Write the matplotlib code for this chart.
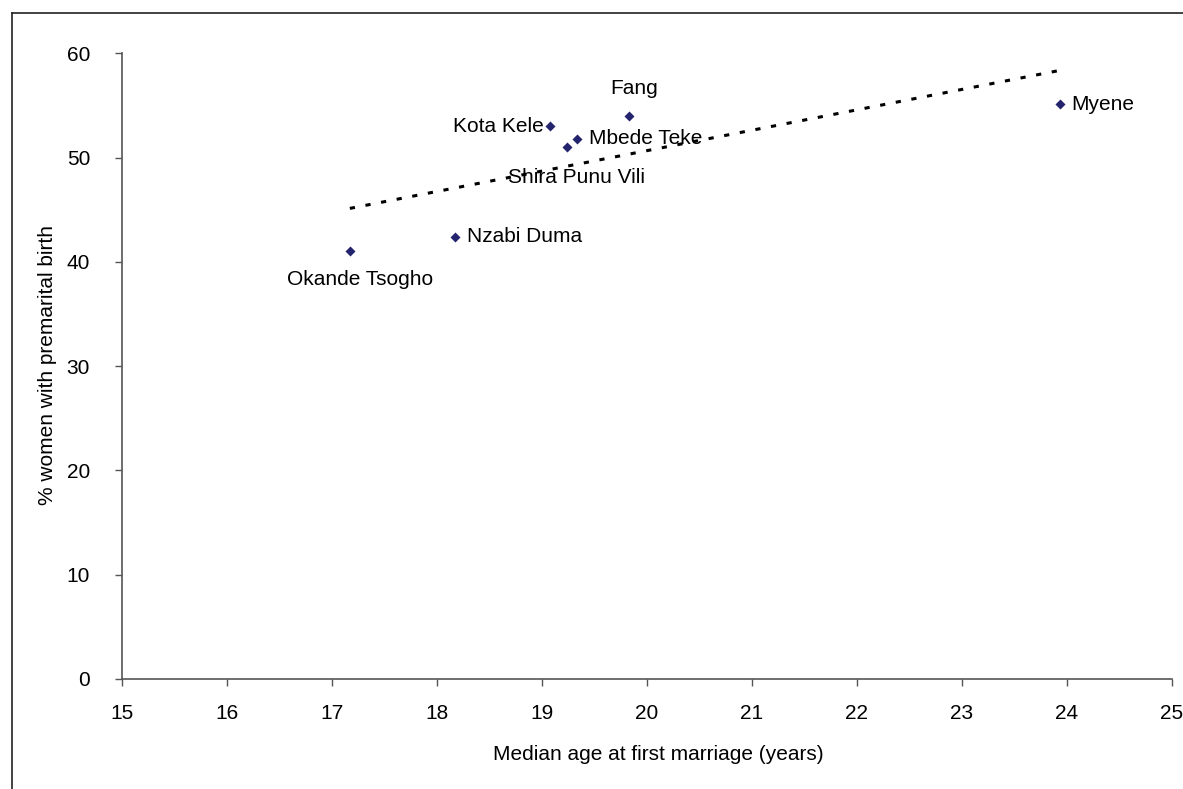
import numpy as np
import matplotlib
matplotlib.use("Agg")
import matplotlib.pyplot as plt
from matplotlib.lines import Line2D

plt.rcParams['font.family'] = ['Liberation Sans', 'DejaVu Sans']

# Ethnic groups: median age at first marriage vs % women with premarital birth
groups = ["Okande Tsogho", "Nzabi Duma", "Kota Kele", "Shira Punu Vili",
          "Mbede Teke", "Fang", "Myene"]
median_age = [17.17, 18.17, 19.08, 19.24, 19.33, 19.83, 23.93]
pct_premarital = [41.0, 42.4, 53.0, 51.0, 51.8, 54.0, 55.1]

x_ticks = [15, 16, 17, 18, 19, 20, 21, 22, 23, 24, 25]
y_ticks = [0, 10, 20, 30, 40, 50, 60]

FS = 15

# label placement: (dx, dy) in points, horizontal alignment
label_pos = {
    "Okande Tsogho": (7, -20, "center"),
    "Nzabi Duma": (9, 0, "left"),
    "Kota Kele": (-5, 0, "right"),
    "Shira Punu Vili": (7, -21.5, "center"),
    "Mbede Teke": (9, 0, "left"),
    "Fang": (3.5, 19.5, "center"),
    "Myene": (8.5, 0, "left"),
}

W, H = 1183, 789
fig = plt.figure(figsize=(W / 100, H / 100), dpi=100)
ax = fig.add_axes([122 / W, 1 - 679 / H, (1172 - 122) / W, (679 - 53.3) / H])

ax.scatter(median_age, pct_premarital, marker="D", s=26, color="#23236e",
           zorder=3, linewidths=0)

# linear trendline over the data range
coef = np.polyfit(median_age, pct_premarital, 1)
xs = np.array([min(median_age), max(median_age)])
ax.plot(xs, np.polyval(coef, xs), color="black", lw=2.2,
        linestyle=(0, (1.7, 3.5)), zorder=2)

for name, xv, yv in zip(groups, median_age, pct_premarital):
    dx, dy, ha = label_pos[name]
    ax.annotate(name, (xv, yv), xytext=(dx, dy), textcoords="offset points",
                ha=ha, va="center", fontsize=FS, color="black", zorder=4)

ax.set_xlim(15, 25)
ax.set_ylim(0, 60)
ax.set_xticks(x_ticks)
ax.set_yticks(y_ticks)
ax.tick_params(axis="both", direction="out", length=5, width=1,
               color="#555555", labelsize=FS, labelcolor="black")
ax.tick_params(axis="y", pad=18)
ax.tick_params(axis="x", pad=13)
for side in ("top", "right"):
    ax.spines[side].set_visible(False)
for side in ("left", "bottom"):
    ax.spines[side].set_color("#555555")
    ax.spines[side].set_linewidth(1.2)

# axis titles
fig.text(658 / W, 1 - 755 / H, "Median age at first marriage (years)",
         ha="center", va="center", fontsize=FS)
fig.text(48 / W, 1 - 365 / H, "% women with premarital birth",
         ha="center", va="center", rotation=90, fontsize=FS)

# outer chart frame
fx = 11.5 / W
fy = 1 - 12.5 / H
fig.add_artist(Line2D([fx, fx], [0, fy], transform=fig.transFigure,
                      color="#222222", lw=1.2))
fig.add_artist(Line2D([fx, 1], [fy, fy], transform=fig.transFigure,
                      color="#222222", lw=1.2))

fig.savefig("out.png", dpi=100, facecolor="white")
